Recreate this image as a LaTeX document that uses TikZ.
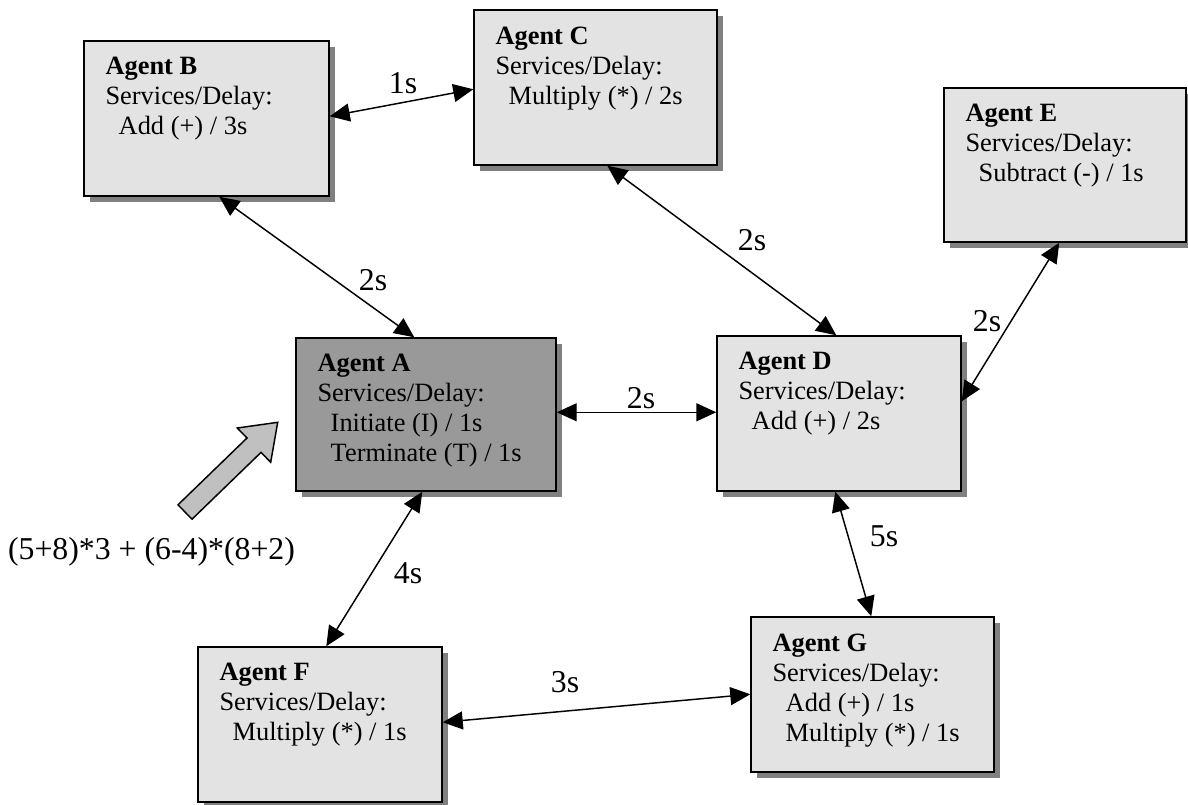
\documentclass[tikz,border=0pt]{standalone}
\usepackage{fontspec}
\setmainfont{Liberation Serif}
\usetikzlibrary{shadows,fit,calc,arrows.meta}
\definecolor{boxgray}{RGB}{227,227,227}
\definecolor{agray}{RGB}{153,153,153}
\definecolor{shgray}{RGB}{128,128,128}
\definecolor{bigarrow}{RGB}{192,192,192}
\begin{document}
\begin{tikzpicture}[x=0.75pt,y=-0.75pt,
  box/.style={draw=black, line width=1.1pt, fill=boxgray, inner sep=0pt,
    drop shadow={shadow xshift=4.5pt, shadow yshift=-4.5pt, fill=shgray, opacity=1}},
  txt/.style={anchor=north west, inner sep=0pt, align=left,
    font=\fontsize{19.8pt}{22.5pt}\selectfont},
  conn/.style={line width=1.1pt, {Triangle[length=15pt,width=13.5pt]}-{Triangle[length=15pt,width=13.5pt]}},
  lab/.style={font=\fontsize{23.85pt}{28pt}\selectfont, inner sep=0pt},
  bigarr/.style={draw=black, line width=1.1pt, fill=bigarrow, line join=miter}]
\useasboundingbox (0,0) rectangle (1188,804);

% boxes
\node[box, fit={(84,41) (329,196)}] (B) {};
\node[box, fit={(474,10) (717,165)}] (C) {};
\node[box, fit={(944,88) (1186,242)}] (E) {};
\node[box, fill=agray, fit={(296,338) (556,491)}] (A) {};
\node[box, fit={(717,336) (961,491)}] (D) {};
\node[box, fit={(198,647) (442,802)}] (F) {};
\node[box, fit={(751,617) (994,772)}] (G) {};

% texts
\node[txt] (Bt) at ($(B.north west)+(22,17)$) {\textbf{Agent B}\\Services/Delay:\\\hspace*{0.5em}Add (+) / 3s};
\node[txt] (Ct) at ($(C.north west)+(22,17)$) {\textbf{Agent C}\\Services/Delay:\\\hspace*{0.5em}Multiply (*) / 2s};
\node[txt] (Et) at ($(E.north west)+(22,17)$) {\textbf{Agent E}\\Services/Delay:\\\hspace*{0.5em}Subtract (-) / 1s};
\node[txt] (At) at ($(A.north west)+(22,17)$) {\textbf{Agent A}\\Services/Delay:\\\hspace*{0.5em}Initiate (I) / 1s\\\hspace*{0.5em}Terminate (T) / 1s};
\node[txt] (Dt) at ($(D.north west)+(22,17)$) {\textbf{Agent D}\\Services/Delay:\\\hspace*{0.5em}Add (+) / 2s};
\node[txt] (Ft) at ($(F.north west)+(22,17)$) {\textbf{Agent F}\\Services/Delay:\\\hspace*{0.5em}Multiply (*) / 1s};
\node[txt] (Gt) at ($(G.north west)+(22,17)$) {\textbf{Agent G}\\Services/Delay:\\\hspace*{0.5em}Add (+) / 1s\\\hspace*{0.5em}Multiply (*) / 1s};

% connectors
\draw[conn] ($(B.north east)+(0,76)$) -- ($(C.north west)+(0,80)$);
\draw[conn] ($(B.south west)+(136,0)$) -- ($(A.north west)+(119,0)$);
\draw[conn] ($(C.south west)+(134,0)$) -- ($(D.north west)+(120,0)$);
\draw[conn] ($(E.south west)+(116,0)$) -- ($(D.north east)+(0,66)$);
\draw[conn] ($(A.north east)+(0,75)$) -- ($(D.north west)+(0,77)$);
\draw[conn] ($(A.south west)+(127,0)$) -- ($(F.north west)+(129,0)$);
\draw[conn] ($(D.south west)+(119,0)$) -- ($(G.north west)+(121,0)$);
\draw[conn] ($(F.north east)+(0,76)$) -- ($(G.north west)+(0,78)$);

% labels
\node[lab] (l1) at (403,83) {1s};
\node[lab] (l2) at (373,280) {2s};
\node[lab] (l3) at (752,240) {2s};
\node[lab] (l4) at (987,321) {2s};
\node[lab] (l5) at (641,398) {2s};
\node[lab] (l6) at (408,573) {4s};
\node[lab] (l7) at (884,536) {5s};
\node[lab] (l8) at (565,682) {3s};

% big arrow and expression
\draw[bigarr] (178,504.8) -- (247,438) -- (237.3,428) -- (277.7,422.3) -- (270.7,462.2) -- (261,452.4) -- (192,519.2) -- cycle;
\node[lab] (expr) at (151.5,552) {(5+8)*3 + (6-4)*(8+2)};
\end{tikzpicture}
\end{document}
